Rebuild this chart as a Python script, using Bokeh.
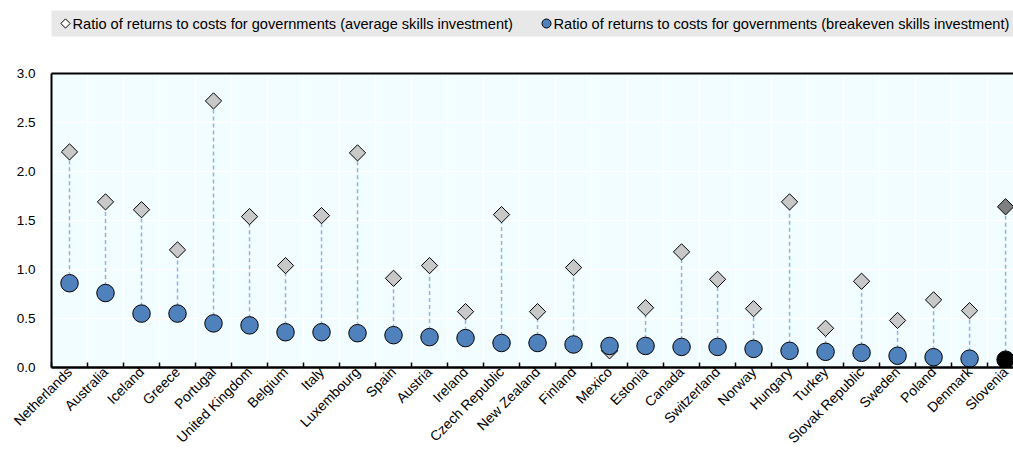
from bokeh.plotting import figure
from bokeh.layouts import column
from bokeh.models import (ColumnDataSource, FixedTicker, PrintfTickFormatter, Range1d,
                          LinearAxis)
from bokeh.core.properties import value
from bokeh.embed import file_html
from bokeh.resources import INLINE
import math

countries = ["Netherlands", "Australia", "Iceland", "Greece", "Portugal", "United Kingdom",
             "Belgium", "Italy", "Luxembourg", "Spain", "Austria", "Ireland", "Czech Republic",
             "New Zealand", "Finland", "Mexico", "Estonia", "Canada", "Switzerland", "Norway",
             "Hungary", "Turkey", "Slovak Republic", "Sweden", "Poland", "Denmark", "Slovenia"]
avg_ratio = [2.20, 1.69, 1.61, 1.20, 2.72, 1.54, 1.04, 1.55, 2.19, 0.91, 1.04, 0.57, 1.56,
             0.57, 1.02, 0.17, 0.61, 1.18, 0.90, 0.60, 1.69, 0.40, 0.88, 0.48, 0.69, 0.58, 1.64]
breakeven_ratio = [0.86, 0.76, 0.55, 0.55, 0.45, 0.43, 0.36, 0.36, 0.35, 0.33, 0.31, 0.30, 0.25,
                   0.25, 0.235, 0.22, 0.22, 0.21, 0.21, 0.19, 0.17, 0.16, 0.15, 0.12, 0.105, 0.09, 0.08]
y_ticks = [0.0, 0.5, 1.0, 1.5, 2.0, 2.5, 3.0]
legend_labels = ["Ratio of returns to costs for governments (average skills investment)",
                 "Ratio of returns to costs for governments (breakeven skills investment)"]

n = len(countries)
xs = list(range(n))
highlight = "Slovenia"
dia_colors = ["#7F7F7F" if c == highlight else "#C8C8C8" for c in countries]
cir_colors = ["#000000" if c == highlight else "#4F81BD" for c in countries]

src = ColumnDataSource(dict(x=xs, avg=avg_ratio, brk=breakeven_ratio,
                            dc=dia_colors, cc=cir_colors))

FONT = "Liberation Sans"
W = 1013
LEG_H = 40
FRAME_L = 51

# ---------------- legend strip (pixel-unit ranges) ----------------
lf = figure(width=W, height=LEG_H, output_backend="svg", toolbar_location=None,
            x_axis_location=None, y_axis_location=None,
            x_range=Range1d(FRAME_L, W), y_range=Range1d(0, LEG_H),
            min_border_left=FRAME_L, min_border_right=0, min_border_top=0, min_border_bottom=0)
lf.grid.visible = False
lf.outline_line_color = None
lf.background_fill_color = "white"
lf.border_fill_color = "white"

lf.quad(left=[49], right=[W], bottom=[4], top=[30], fill_color="#E8E8E8", line_color=None)
lf.scatter(x=[65], y=[17], marker="square", angle=math.pi / 4, size=6.5,
           fill_color="white", line_color="black", line_width=1)
lf.scatter(x=[546], y=[17], marker="circle", size=9,
           fill_color="#4F81BD", line_color="black", line_width=1)
lf.text(x=[72, 553], y=[17, 17], text=legend_labels,
        text_font=value(FONT), text_font_size="14.6px", text_color="#000000",
        text_align="left", text_baseline="middle")

# ---------------- main chart ----------------
p = figure(width=W, height=454 - LEG_H, output_backend="svg", toolbar_location=None,
           x_range=Range1d(-0.5, 26.22), y_range=Range1d(0, 3.0),
           min_border_left=FRAME_L, min_border_right=0, min_border_top=33, min_border_bottom=0)
p.background_fill_color = "#F2FDFF"
p.border_fill_color = "white"
p.outline_line_color = None

# grids
p.xgrid.ticker = FixedTicker(ticks=[i + 0.5 for i in range(-1, n)])
p.ygrid.ticker = FixedTicker(ticks=y_ticks)
for g in (p.xgrid, p.ygrid):
    g.grid_line_color = "white"
    g.grid_line_width = 1.5

# x axis
xa = p.xaxis[0]
xa.ticker = FixedTicker(ticks=xs, minor_ticks=[i - 0.5 for i in range(n + 1)])
xa.major_label_overrides = {i: c for i, c in enumerate(countries)}
xa.major_tick_in = 0
xa.major_tick_out = 0
xa.minor_tick_in = 5
xa.minor_tick_out = 0
xa.minor_tick_line_color = "black"
xa.minor_tick_line_width = 1.5
xa.axis_line_color = "black"
xa.axis_line_width = 2.5
xa.major_label_orientation = math.pi / 4
xa.major_label_text_font = FONT
xa.major_label_text_font_size = "14px"
xa.major_label_text_color = "#000000"
xa.major_label_standoff = 2

# y axis
ya = p.yaxis[0]
ya.ticker = FixedTicker(ticks=y_ticks)
ya.formatter = PrintfTickFormatter(format="%.1f")
ya.major_tick_in = 0
ya.major_tick_out = 0
ya.minor_tick_line_color = None
ya.axis_line_color = "black"
ya.axis_line_width = 2
ya.major_label_text_font = FONT
ya.major_label_text_font_size = "13.5px"
ya.major_label_text_color = "#000000"
ya.major_label_standoff = 16

# top border line
top = LinearAxis(ticker=FixedTicker(ticks=[]), axis_line_color="black", axis_line_width=2,
                 major_tick_line_color=None, minor_tick_line_color=None,
                 major_label_text_font_size="0px")
p.add_layout(top, "above")

# connectors
p.segment(x0="x", y0="brk", x1="x", y1="avg", source=src,
          line_color="#8DB4E2", line_width=1.5, line_dash="4 3")
# diamonds
p.scatter(x="x", y="avg", source=src, marker="square", angle=math.pi / 4, size=11.5,
          fill_color="dc", line_color="black", line_width=1)
# circles
p.scatter(x="x", y="brk", source=src, marker="circle", size=17.5,
          fill_color="cc", line_color="black", line_width=1)

open("out.html", "w").write(file_html(column(lf, p, spacing=0), INLINE))
